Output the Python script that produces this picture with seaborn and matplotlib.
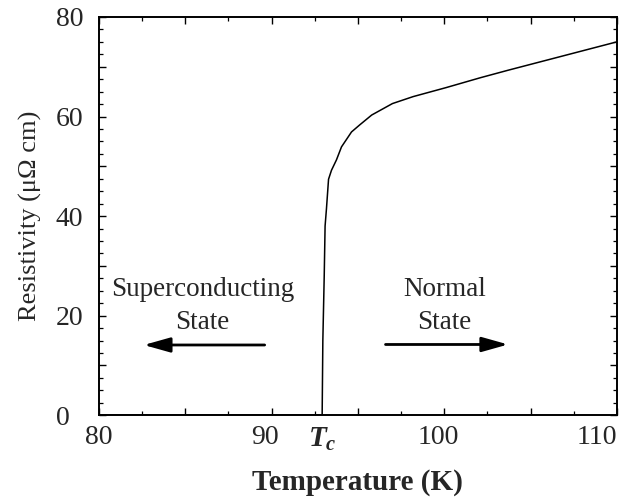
import numpy as np
import pandas as pd
import matplotlib
matplotlib.use('Agg')
import matplotlib.pyplot as plt
from matplotlib.ticker import MultipleLocator, FuncFormatter
from matplotlib.transforms import ScaledTranslation
import seaborn as sns

# Resistivity vs temperature
temperature = [80.0, 92.93, 92.97, 93.05, 93.1, 93.18, 93.3, 93.47, 93.76, 94.05,
               94.63, 95.1, 95.8, 97.0, 98.2, 100.1, 102.1, 103.7, 110.0]
resistivity = [0.0, 0.0, 15.0, 28.0, 38.0, 41.5, 47.4, 49.2, 51.3, 53.9,
               56.9, 58.3, 60.3, 62.6, 64.0, 65.8, 67.8, 69.3, 75.0]
tc = 92.93

df = pd.DataFrame({'T': temperature, 'rho': resistivity})

sns.set_style('ticks')
plt.rcParams['font.family'] = ['Liberation Serif', 'DejaVu Serif']
plt.rcParams['mathtext.fontset'] = 'custom'
plt.rcParams['mathtext.it'] = 'Liberation Serif:italic:bold'
plt.rcParams['mathtext.rm'] = 'Liberation Serif:bold'

fig = plt.figure(figsize=(6.34, 4.99), dpi=100)
ax = fig.add_axes([0.156, 0.168, 0.817, 0.798])

sns.lineplot(data=df, x='T', y='rho', sort=False, estimator=None,
             color='black', linewidth=1.1, ax=ax)

ax.set_xlim(80, 110)
ax.set_ylim(0, 80)

def every(step):
    return FuncFormatter(lambda v, pos: f'{v:.0f}' if round(v) % step == 0 else '')

ax.xaxis.set_major_locator(MultipleLocator(5))
ax.xaxis.set_minor_locator(MultipleLocator(2.5))
ax.yaxis.set_major_locator(MultipleLocator(10))
ax.yaxis.set_minor_locator(MultipleLocator(2.5))
ax.xaxis.set_major_formatter(every(10))
ax.yaxis.set_major_formatter(every(20))

ax.tick_params(which='both', direction='in', top=True, right=True,
               color='black', labelsize=20)
ax.tick_params(which='major', length=5, width=1)
ax.tick_params(which='minor', length=3, width=0.9)
ax.tick_params(axis='x', pad=7)
ax.tick_params(axis='y', pad=31)

for sp in ax.spines.values():
    sp.set_linewidth(1.4)
    sp.set_color('black')

ax.set_xlabel('Temperature (K)', fontsize=21, fontweight='bold', labelpad=14)
ax.set_ylabel('Resistivity (μΩ cm)', fontsize=19, labelpad=10)

# T_c marker under the axis
ax.annotate(r'$T_c$', xy=(tc, 0), xycoords=('data', 'axes fraction'),
            xytext=(0, -8), textcoords='offset points',
            ha='center', va='top', fontsize=21)

# state annotations
ax.text(86.0, 24.0, 'Superconducting', ha='center', va='baseline', fontsize=19.5)
ax.text(86.0, 17.4, 'State', ha='center', va='baseline', fontsize=19.5)
ax.text(100.0, 24.0, 'Normal', ha='center', va='baseline', fontsize=19.5)
ax.text(100.0, 17.4, 'State', ha='center', va='baseline', fontsize=19.5)

arrow_style = dict(arrowstyle='-|>,head_length=1.6,head_width=0.45',
                   color='black', lw=2, shrinkA=0, shrinkB=0, mutation_scale=10)
ax.annotate('', xy=(82.6, 14.1), xytext=(89.6, 14.1), arrowprops=arrow_style)
ax.annotate('', xy=(103.7, 14.2), xytext=(96.6, 14.2), arrowprops=arrow_style)

# nudge tick labels the way the printed figure sits
fig.canvas.draw()
for lab in ax.get_yticklabels():
    lab.set_horizontalalignment('left')
x_shift = {'90': -5, '100': -4}
for lab in ax.get_xticklabels():
    txt = lab.get_text()
    if txt == '110':
        lab.set_horizontalalignment('right')
    elif txt in x_shift:
        lab.set_transform(lab.get_transform() +
                          ScaledTranslation(x_shift[txt] / 72, 0, fig.dpi_scale_trans))

fig.savefig('out.png', dpi=100)
